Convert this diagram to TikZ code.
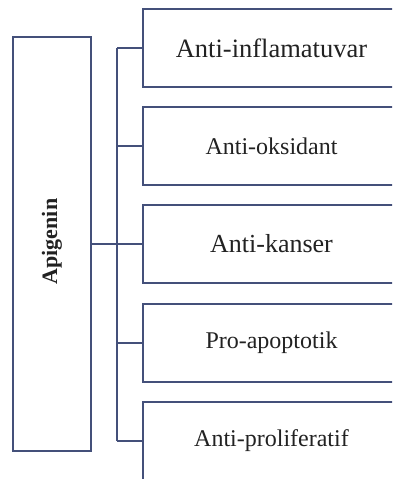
\documentclass[tikz,border=0pt]{standalone}
\usepackage{fontspec}
\setmainfont{Liberation Serif}
\definecolor{edge}{HTML}{44507A}
\definecolor{ink}{HTML}{222222}
\begin{document}
\begin{tikzpicture}[x=1pt,y=-1pt,
  box/.style={draw=edge, line width=1.3pt, fill=white, rectangle, inner sep=0pt, outer sep=0pt, text=ink},
  rbox/.style={box, minimum width=257pt, minimum height=78pt},
  link/.style={draw=edge, line width=1.3pt}]
\useasboundingbox (0,0) rectangle (392,479);
\clip (0,0) rectangle (392,479);
\fill[white] (0,0) rectangle (392,479);
\node[box, minimum width=78pt, minimum height=414pt] (ap) at (52,244)
  {\raisebox{5pt}{\rotatebox{90}{\fontsize{22}{26}\selectfont\bfseries Apigenin}}};
\node[rbox] (b1) at (271.5,48) {\fontsize{26.5}{30}\selectfont Anti-inflamatuvar};
\node[rbox] (b2) at (271.5,146) {\fontsize{24}{28}\selectfont Anti-oksidant};
\node[rbox] (b3) at (271.5,244) {\fontsize{26}{30}\selectfont Anti-kanser};
\node[rbox] (b4) at (271.5,343) {\fontsize{24}{28}\selectfont Pro-apoptotik};
\node[rbox] (b5) at (271.5,441) {\fontsize{24}{28}\selectfont Anti-proliferatif};
\coordinate (top) at (117,48);
\coordinate (bot) at (117,441);
\draw[link] (top) -- (bot);
\draw[link] (top) -- (b1.west);
\draw[link] (117,146) -- (b2.west);
\draw[link] (ap.east) -- (b3.west);
\draw[link] (117,343) -- (b4.west);
\draw[link] (bot) -- (b5.west);
\end{tikzpicture}
\end{document}
